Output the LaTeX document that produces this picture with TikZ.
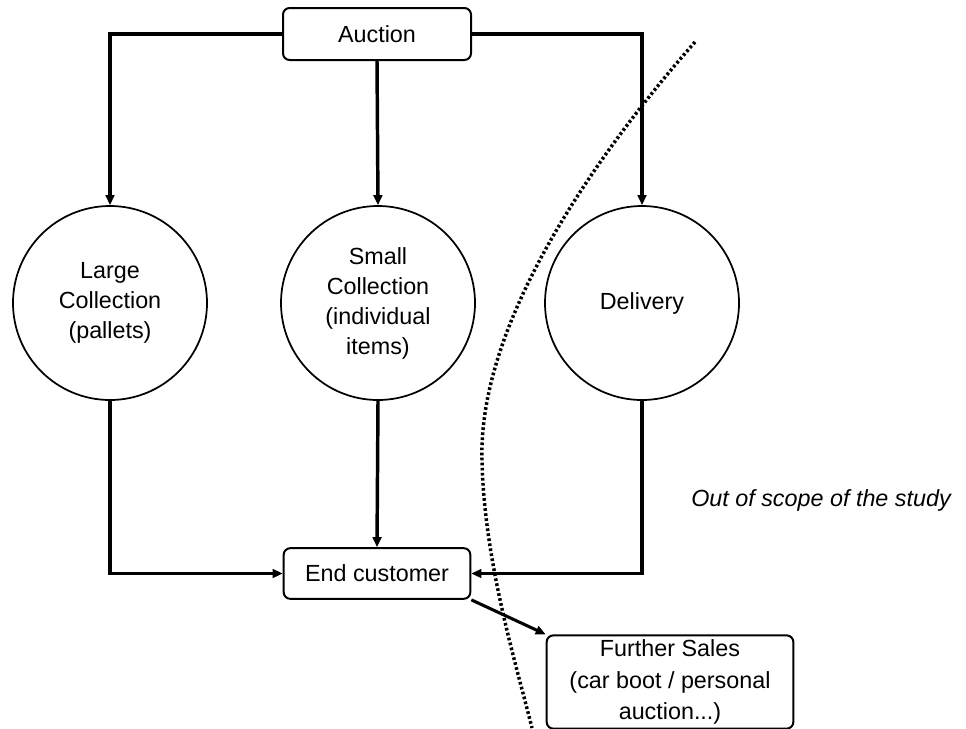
\documentclass[tikz,border=0pt]{standalone}
\usepackage{fontspec}
\setmainfont{Liberation Sans}
\usetikzlibrary{arrows.meta}
\begin{document}
\begin{tikzpicture}[x=0.75pt,y=-0.75pt,
  box/.style={draw,line width=1.5pt,rounded corners=5pt,align=center,
    font=\fontsize{17.5}{22.5}\selectfont},
  stage/.style={draw,circle,line width=1.3pt,minimum size=145.5pt,inner sep=0pt,
    align=center,font=\fontsize{17.5}{22.5}\selectfont},
  tip/.style={-{Triangle[length=7.5pt,width=6.5pt]}},
  conn/.style={line width=2.6pt,line join=miter,tip},
  scope line/.style={line width=2.6pt,dash pattern=on 2pt off 1.8pt}]
\useasboundingbox (0,0) rectangle (966,728);

% process stages
\node[box,minimum width=141pt,minimum height=39pt] (auc) at (377,34) {Auction};
\node[stage] (lc) at (110,303) {Large\\Collection\\(pallets)};
\node[stage] (sc) at (378,303) {Small\\Collection\\(individual\\items)};
\node[stage] (del) at (642,303) {Delivery};
\node[box,minimum width=140pt,minimum height=38pt] (ec) at (377,573.5) {End customer};
\node[box,minimum width=185pt,minimum height=64.5pt,
  font=\fontsize{17.5}{23.5}\selectfont] (fs) at (670,682)
  {Further Sales\\(car boot / personal\\auction...)};

% flows
\draw[conn] (auc.west) -| (lc.north);
\draw[conn] (auc.south) -- (sc.north);
\draw[conn] (auc.east) -| (del.north);
\draw[conn] (lc.south) |- (ec.west);
\draw[conn] (sc.south) -- (ec.north);
\draw[conn] (del.south) |- (ec.east);
\draw[line width=2.3pt,tip] (ec.south east) -- (fs.north west);

% boundary of the study
\draw[scope line] (695,42) .. controls (600,150) and (478,320) .. (482,460)
  .. controls (484,560) and (515,660) .. (532,728);
\node[font=\fontsize{17.5}{22}\selectfont\itshape] (oos) at (821,500) {Out of scope of the study};
\end{tikzpicture}
\end{document}
